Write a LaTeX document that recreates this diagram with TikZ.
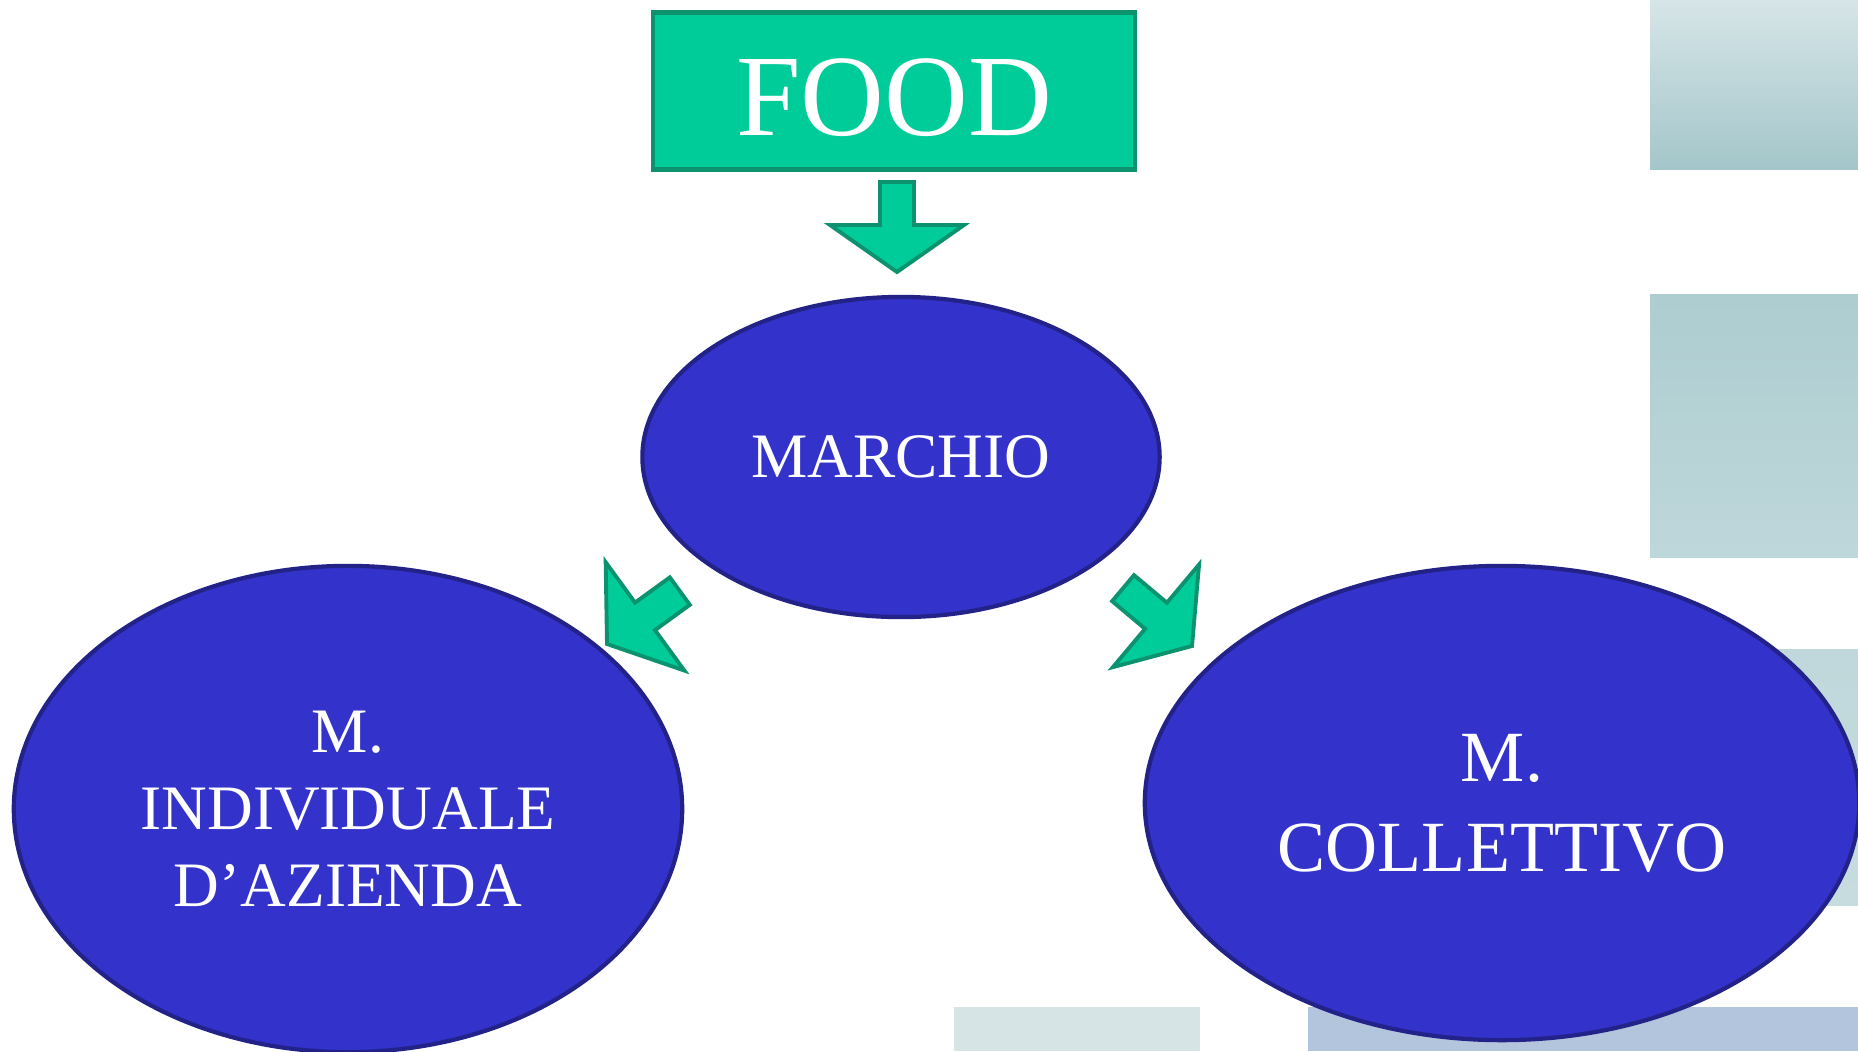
\documentclass[tikz,border=0pt]{standalone}
\usepackage{fontspec}
\setmainfont{Liberation Serif}
\usetikzlibrary{shapes.geometric}
\definecolor{foodgreen}{RGB}{0,204,153}
\definecolor{foodedge}{RGB}{12,146,110}
\definecolor{markblue}{RGB}{51,51,204}
\definecolor{markedge}{RGB}{34,34,136}
\tikzset{
  blockArrow/.pic = {
    % The arrow dimensions (tip at the origin, pointing down)
    \def\whead{67}
    \def\lhead{47}
    \def\wshaft{17}
    \def\lshaft{90}
    % Outline of the arrow
    \draw[line width=1.1pt,draw=foodedge,fill=foodgreen]
      (0,0) -- (-\whead,-\lhead) -- (-\wshaft,-\lhead) -- (-\wshaft,-\lshaft)
      -- (\wshaft,-\lshaft) -- (\wshaft,-\lhead) -- (\whead,-\lhead) -- cycle;
             },
  markEllipse/.style = {ellipse,draw=markedge,fill=markblue,line width=1.2pt,
    text=white,align=center,inner sep=0pt}
         }

\begin{document}
\begin{tikzpicture}[x=0.01cm,y=-0.01cm]
    \useasboundingbox (0,0) rectangle (1858,1051);
    % Pale boxes on the right border
    \shade[top color={rgb,255:red,214;green,229;blue,231},bottom color={rgb,255:red,164;green,198;blue,202}]
      (1650,0) rectangle (1858,169);
    \shade[top color={rgb,255:red,173;green,205;blue,208},bottom color={rgb,255:red,190;green,215;blue,218}]
      (1650,294) rectangle (1858,557);
    \shade[top color={rgb,255:red,192;green,216;blue,219},bottom color={rgb,255:red,198;green,220;blue,223}]
      (1650,649) rectangle (1858,905);
    % Pale boxes on the bottom border
    \fill[color={rgb,255:red,214;green,228;blue,230}] (954,1007) rectangle (1200,1051);
    \fill[color={rgb,255:red,179;green,197;blue,220}] (1308,1007) rectangle (1858,1051);
    % Top box
    \node[draw=foodedge,fill=foodgreen,line width=1.2pt,text=white,
      minimum width=4.82cm,minimum height=1.57cm,font=\fontsize{33}{40}\selectfont]
      (food) at (894,91) {\raisebox{-1.8pt}[\height][0pt]{FOOD}};
    % The three marks
    \node[markEllipse,minimum width=5.17cm,minimum height=3.2cm,
      font=\fontsize{18}{22}\selectfont] (marchio) at (901,457) {MARCHIO};
    \node[markEllipse,minimum width=6.68cm,minimum height=4.86cm,
      font=\fontsize{18}{21.9}\selectfont] (individuale) at (348,809)
      {M.\\INDIVIDUALE\\D’AZIENDA};
    \node[markEllipse,minimum width=7.14cm,minimum height=4.74cm,
      font=\fontsize{20.5}{25.6}\selectfont] (collettivo) at (1502,803)
      {M.\\COLLETTIVO};
    % Block arrows between the boxes
    \pic at (897,272) {blockArrow};
    \pic[rotate=-54] at (607,644) {blockArrow};
    \pic[rotate=50] at (1192,646) {blockArrow};
  \end{tikzpicture}
\end{document}
